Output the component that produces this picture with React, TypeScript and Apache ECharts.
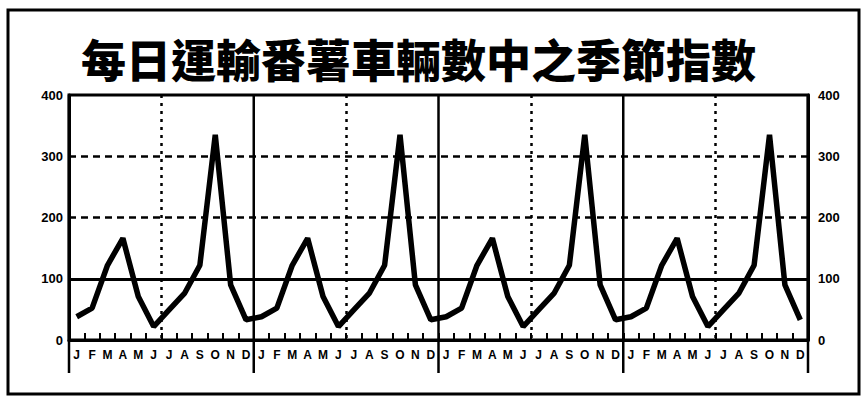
import React, { useEffect, useRef } from "react";
import * as echarts from "echarts";

const titleText = "每日運輸番薯車輛數中之季節指數";
const monthLabels = ["J", "F", "M", "A", "M", "J", "J", "A", "S", "O", "N", "D"];
const year1 = [38, 52, 122, 166, 71, 22, 49, 76, 122, 335, 90, 33];
const year2 = [38, 52, 122, 166, 71, 22, 49, 76, 122, 335, 90, 33];
const year3 = [38, 52, 122, 166, 71, 22, 49, 76, 122, 335, 90, 33];
const year4 = [38, 52, 122, 166, 71, 22, 49, 76, 122, 335, 90, 33];
const yTicks = [0, 100, 200, 300, 400];

export default function App() {
  const ref = useRef<HTMLDivElement>(null);
  useEffect(() => {
    if (!ref.current) return;
    const chart = echarts.init(ref.current, null, { renderer: "svg" });
    const years = [year1, year2, year3, year4];
    const categories: string[] = [];
    const values: number[] = [];
    years.forEach((y) => {
      monthLabels.forEach((m, i) => {
        categories.push(m);
        values.push(y[i]);
      });
    });
    const nMonths = categories.length;
    // [category index, side]: side -1 = left edge of band, 1 = right edge
    const yearBounds: number[][] = [];
    for (let i = 0; i <= nMonths; i += 12) {
      yearBounds.push(i < nMonths ? [i, -1] : [nMonths - 1, 1]);
    }
    const yMax = yTicks[yTicks.length - 1];
    const axisFont = {
      color: "#000",
      fontWeight: 900 as any,
      fontFamily: "Liberation Sans, Arial, sans-serif",
      fontSize: 13,
    };
    chart.setOption({
      animation: false,
      backgroundColor: "#fff",
      graphic: [
        {
          type: "rect",
          shape: { x: 8, y: 10, width: 851, height: 384 },
          style: { fill: "none", stroke: "#000", lineWidth: 3 },
          z: 0,
        },
      ],
      title: {
        text: titleText,
        left: 76,
        top: 31,
        textStyle: {
          fontFamily: "Noto Sans CJK TC",
          fontWeight: 900,
          fontSize: 45,
          color: "#000",
        },
      },
      grid: {
        left: 69,
        right: 56,
        top: 95,
        bottom: 58,
        show: true,
        borderColor: "#000",
        borderWidth: 3,
        backgroundColor: "transparent",
      },
      xAxis: [
        {
          type: "category",
          data: categories,
          boundaryGap: true,
          axisLine: { lineStyle: { color: "#000", width: 3 } },
          axisTick: { show: true, inside: true, length: 7, lineStyle: { color: "#000", width: 2 }, interval: 0 },
          axisLabel: { ...axisFont, fontSize: 12, interval: 0, margin: 9 },
          splitLine: {
            show: true,
            interval: (i: number) => i % 12 === 6,
            lineStyle: { color: "#000", width: 2.5, type: [3, 5] },
          },
        },
      ],
      yAxis: [
        {
          type: "value",
          min: yTicks[0],
          max: yMax,
          interval: 100,
          position: "left",
          axisLine: { show: true, lineStyle: { color: "#000", width: 3 } },
          axisTick: { show: false },
          axisLabel: { ...axisFont, margin: 6 },
          splitLine: { show: false },
        },
        {
          type: "value",
          min: yTicks[0],
          max: yMax,
          interval: 100,
          position: "right",
          axisLine: { show: true, lineStyle: { color: "#000", width: 3 } },
          axisTick: { show: false },
          axisLabel: { ...axisFont, margin: 10 },
          splitLine: { show: false },
        },
      ],
      series: [
        {
          type: "custom",
          xAxisIndex: 0,
          yAxisIndex: 0,
          clip: false,
          silent: true,
          z: 3,
          data: yearBounds,
          renderItem: (params: any, api: any) => {
            const idx = api.value(0);
            const side = api.value(1);
            const half = api.size([1, 0])[0] / 2;
            const x = api.coord([idx, 0])[0] + side * half;
            const yTop = api.coord([idx, yMax])[1];
            const yBottom = api.coord([idx, 0])[1];
            return {
              type: "line",
              shape: { x1: x, y1: yTop, x2: x, y2: yBottom + 33 },
              style: { stroke: "#000", lineWidth: 2.5 },
            };
          },
        },
        {
          type: "line",
          data: values,
          xAxisIndex: 0,
          yAxisIndex: 0,
          symbol: "none",
          lineStyle: { color: "#000", width: 5.5 },
          z: 5,
          markLine: {
            silent: true,
            symbol: "none",
            label: { show: false },
            z: 2,
            data: [
              { yAxis: 100, lineStyle: { color: "#000", width: 3, type: "solid" } },
              { yAxis: 200, lineStyle: { color: "#000", width: 2.5, type: [7, 5] } },
              { yAxis: 300, lineStyle: { color: "#000", width: 2.5, type: [7, 5] } },
            ],
          },
        },
      ],
    });
    return () => chart.dispose();
  }, []);
  return (
    <div
      ref={ref}
      style={{ position: "absolute", left: 0, top: 0, width: 864, height: 398 }}
    />
  );
}
